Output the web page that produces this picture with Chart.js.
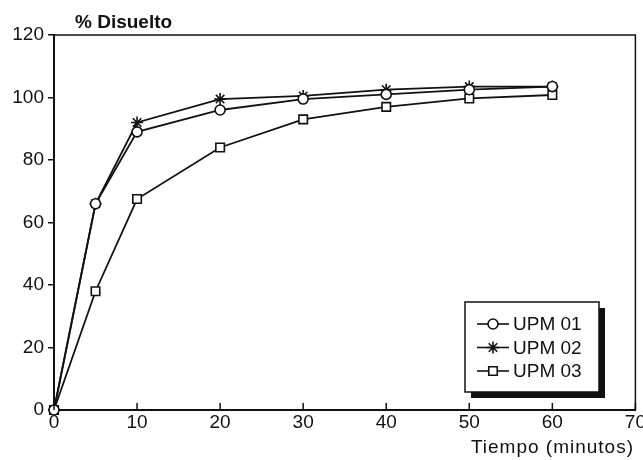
<!DOCTYPE html>
<html>
<head>
<meta charset="utf-8">
<script src="https://cdn.jsdelivr.net/npm/chart.js@4"></script>
<style>
  html, body { margin: 0; padding: 0; background: #fff; }
  #wrap { width: 643px; height: 460px; }
</style>
</head>
<body>
<div id="wrap"><canvas id="myChart"></canvas></div>
<script>
// minutes
const tiempos = [0, 5, 10, 20, 30, 40, 50, 60];
const upm01 = [0, 66, 89, 96, 99.5, 101, 102.5, 103.5];
const upm02 = [0, 66, 92, 99.5, 100.5, 102.5, 103.5, 103.5];
const upm03 = [0, 38, 67.5, 84, 93, 97, 99.7, 100.8];
const labels = ['UPM 01', 'UPM 02', 'UPM 03'];
const styles = ['circle', 'star', 'rect'];

const FONT = '"Liberation Sans", Arial, sans-serif';

function toPoints(values) {
    return tiempos.map((t, i) => ({x: t, y: values[i]}));
}

// box, inward x ticks, titles and legend
const decorations = {
    id: 'decorations',
    afterDraw(chart) {
        const ctx = chart.ctx;
        const area = chart.chartArea;
        const xs = chart.scales.x;
        ctx.save();
        ctx.strokeStyle = '#111';
        ctx.lineWidth = 1.5;
        ctx.beginPath();
        ctx.moveTo(area.left, area.top);
        ctx.lineTo(area.right, area.top);
        ctx.lineTo(area.right, area.bottom);
        ctx.stroke();

        xs.ticks.forEach(t => {
            const px = xs.getPixelForValue(t.value);
            ctx.beginPath();
            ctx.moveTo(px, area.bottom);
            ctx.lineTo(px, area.bottom - 7);
            ctx.stroke();
        });

        ctx.fillStyle = '#111';
        ctx.font = 'bold 19px ' + FONT;
        ctx.textBaseline = 'alphabetic';
        ctx.textAlign = 'left';
        ctx.fillText('% Disuelto', 75, 28);

        ctx.font = '19px ' + FONT;
        ctx.letterSpacing = '1px';
        ctx.textAlign = 'right';
        ctx.fillText('Tiempo (minutos)', 634, 453);
        ctx.letterSpacing = '0px';

        // legend
        const bx = 465, by = 302, bw = 134, bh = 90;
        ctx.fillStyle = '#111';
        ctx.fillRect(bx + 6, by + 6, bw, bh);
        ctx.fillStyle = '#fff';
        ctx.fillRect(bx, by, bw, bh);
        ctx.strokeStyle = '#111';
        ctx.lineWidth = 1.5;
        ctx.strokeRect(bx, by, bw, bh);

        chart.data.datasets.forEach((ds, i) => {
            const cy = by + 22 + i * 23.5;
            ctx.strokeStyle = '#111';
            ctx.lineWidth = 1.6;
            ctx.beginPath();
            ctx.moveTo(bx + 12, cy);
            ctx.lineTo(bx + 44, cy);
            ctx.stroke();
            ctx.fillStyle = '#fff';
            Chart.helpers.drawPoint(ctx, {
                pointStyle: ds.pointStyle,
                radius: ds.pointRadius,
                borderWidth: 1.5,
                rotation: 0
            }, bx + 28, cy);
            ctx.fillStyle = '#111';
            ctx.font = '19px ' + FONT;
            ctx.textAlign = 'left';
            ctx.textBaseline = 'middle';
            ctx.fillText(ds.label, bx + 48, cy + 1);
        });
        ctx.restore();
    }
};

const series = [upm01, upm02, upm03];
const radii = [5, 6, 6];

const data = {
    datasets: series.map((values, i) => ({
        label: labels[i],
        data: toPoints(values),
        borderColor: '#111',
        borderWidth: 1.8,
        backgroundColor: '#fff',
        pointStyle: styles[i],
        pointRadius: radii[i],
        pointBorderWidth: 1.6,
        pointBorderColor: '#111',
        pointBackgroundColor: '#fff',
        tension: 0,
        clip: false,
    })),
};

const options = {
    responsive: true,
    maintainAspectRatio: false,
    animation: false,
    layout: {
        padding: {top: 35, right: 5, bottom: 0, left: 0}
    },
    plugins: {
        legend: {display: false},
        tooltip: {enabled: false},
    },
    scales: {
        x: {
            type: 'linear',
            min: 0,
            max: 70,
            ticks: {
                stepSize: 10,
                color: '#111',
                font: {family: FONT, size: 19},
                padding: 1,
            },
            grid: {display: false, drawTicks: false},
            border: {color: '#111', width: 2},
            afterFit: s => {
                s.height = 50;
                s.paddingRight = 0;
                s.paddingLeft = 0;
            },
        },
        y: {
            min: 0,
            max: 120,
            ticks: {
                stepSize: 20,
                color: '#111',
                font: {family: FONT, size: 19},
                padding: 4,
            },
            grid: {drawOnChartArea: false, tickLength: 6, color: '#111', lineWidth: 1.5},
            border: {color: '#111', width: 2},
            afterFit: s => {
                s.width = 54;
                s.paddingTop = 0;
                s.paddingBottom = 0;
            },
        },
    },
};

window.addEventListener('load', () => {
    new Chart(document.getElementById('myChart'), {
        type: 'line', data, options, plugins: [decorations],
    });
});
</script>
</body>
</html>
